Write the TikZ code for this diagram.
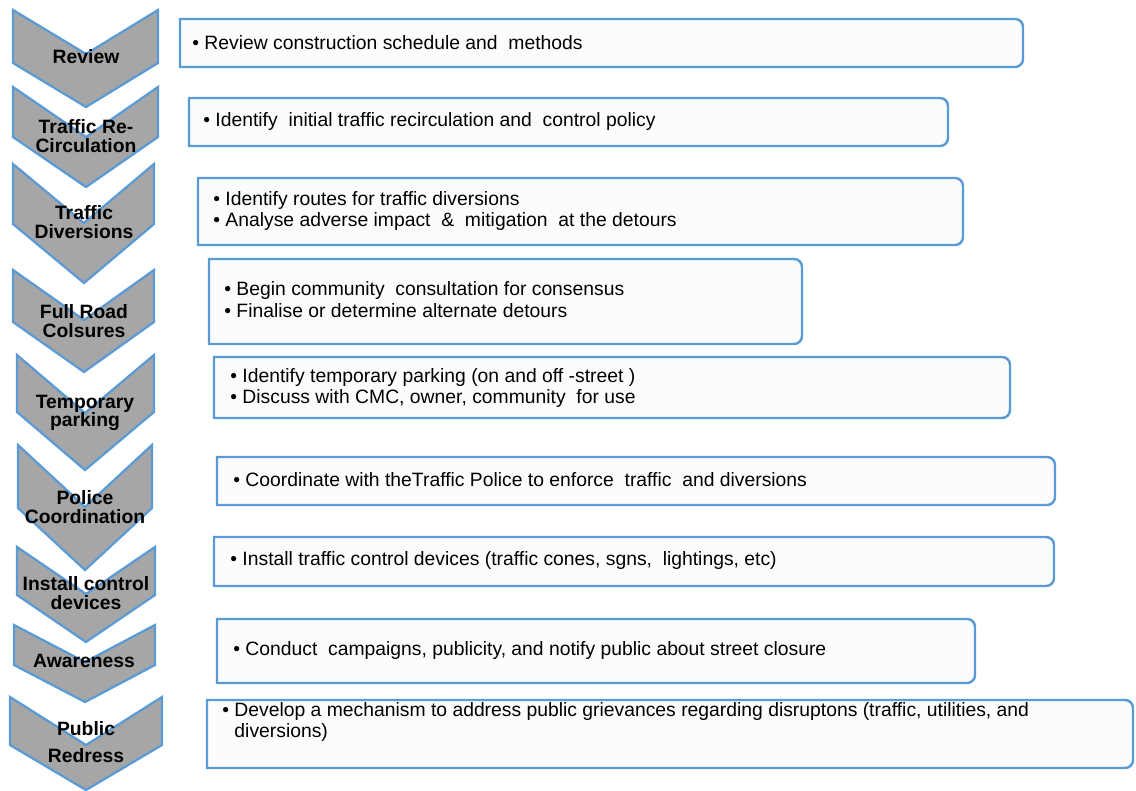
\documentclass[tikz,border=0pt]{standalone}
\usepackage{fontspec}
\setmainfont{Liberation Sans}

\definecolor{chevgray}{HTML}{A6A6A6}
\definecolor{edgeblue}{HTML}{5B9BD5}
\definecolor{notefill}{HTML}{FCFCFC}

\tikzset{
	chevron/.style={draw=edgeblue, fill=chevgray, line width=1.3pt, line join=miter},
	notebox/.style={draw=edgeblue, fill=notefill, line width=1.4pt},
	stage/.style={font=\bfseries\fontsize{11}{10.6}\selectfont, align=center, inner sep=0pt},
	point/.style={font=\fontsize{11}{12.5}\selectfont, align=left, anchor=west, inner sep=0pt}
}

\begin{document}
\begin{tikzpicture}[x=0.02cm, y=-0.02cm]
	\useasboundingbox (0,0) rectangle (1136,791);

	% chevrons down the left side
	\draw [chevron] (13,10) -- (86,54) -- (158,10) -- (158,63) -- (86,107) -- (13,63) -- cycle;
	\draw [chevron] (13,87) -- (86,137) -- (158,87) -- (158,137) -- (86,187) -- (13,137) -- cycle;
	\draw [chevron] (13,164) -- (84,223) -- (154,164) -- (154,224) -- (84,283) -- (13,224) -- cycle;
	\draw [chevron] (13,270) -- (84,320) -- (154,270) -- (154,322) -- (84,372) -- (13,322) -- cycle;
	\draw [chevron] (17,355) -- (85,413) -- (154,355) -- (154,412) -- (85,470) -- (17,412) -- cycle;
	\draw [chevron] (18,445) -- (85,507) -- (152,445) -- (152,508) -- (85,570) -- (18,508) -- cycle;
	\draw [chevron] (17,547) -- (86,594) -- (155,547) -- (155,595) -- (86,642) -- (17,595) -- cycle;
	\draw [chevron] (14,625) -- (85,662) -- (155,625) -- (155,665) -- (85,702) -- (14,665) -- cycle;
	\draw [chevron] (10,697) -- (86,745) -- (162,697) -- (162,745) -- (86,790) -- (10,745) -- cycle;

	% boxes, square on the left, rounded on the right
	\draw [notebox] (600,19) -- (180,19) -- (180,67) -- (600,67) [rounded corners=4.5pt] -- (1023,67) -- (1023,19) -- (900,19) [sharp corners] -- cycle;
	\draw [notebox] (600,98) -- (189,98) -- (189,146) -- (600,146) [rounded corners=4.5pt] -- (948,146) -- (948,98) -- (900,98) [sharp corners] -- cycle;
	\draw [notebox] (600,178) -- (198,178) -- (198,245) -- (600,245) [rounded corners=4.5pt] -- (963,245) -- (963,178) -- (900,178) [sharp corners] -- cycle;
	\draw [notebox] (500,259) -- (209,259) -- (209,344) -- (500,344) [rounded corners=4.5pt] -- (802,344) -- (802,259) -- (700,259) [sharp corners] -- cycle;
	\draw [notebox] (600,357) -- (214,357) -- (214,418) -- (600,418) [rounded corners=4.5pt] -- (1010,418) -- (1010,357) -- (900,357) [sharp corners] -- cycle;
	\draw [notebox] (600,457) -- (217,457) -- (217,505) -- (600,505) [rounded corners=4.5pt] -- (1055,505) -- (1055,457) -- (900,457) [sharp corners] -- cycle;
	\draw [notebox] (600,537) -- (214,537) -- (214,586) -- (600,586) [rounded corners=4.5pt] -- (1054,586) -- (1054,537) -- (900,537) [sharp corners] -- cycle;
	\draw [notebox] (600,619) -- (217,619) -- (217,683) -- (600,683) [rounded corners=4.5pt] -- (975,683) -- (975,619) -- (900,619) [sharp corners] -- cycle;
	\draw [notebox] (600,700) -- (207,700) -- (207,768) -- (600,768) [rounded corners=4.5pt] -- (1133,768) -- (1133,700) -- (900,700) [sharp corners] -- cycle;

	% stage names
	\node at (86,57) [stage] (s1) {Review};
	\node at (86,136) [stage] (s2) {Traffic Re-\\Circulation};
	\node at (84,222) [stage] (s3) {Traffic\\Diversions};
	\node at (84,321) [stage] (s4) {Full Road\\Colsures};
	\node at (85,413) [stage] (s5) {Temporary\\parking};
	\node at (85,507) [stage] (s6) {Police\\Coordination};
	\node at (86,593) [stage] (s7) {Install control\\devices};
	\node at (84,661) [stage] (s8) {Awareness};
	\node at (86,742) [stage, font=\bfseries\fontsize{11}{15.5}\selectfont] (s9) {Public\\Redress};

	% what each stage covers
	\node at (192,43) [point] (p1) {• Review construction schedule and\ \ methods};
	\node at (203,122) [point] (p2) {• Identify\ \ initial traffic recirculation and\ \ control policy};
	\node at (213,211) [point] (p3) {• Identify routes for traffic diversions\\• Analyse adverse impact\ \ \&\ \ mitigation\ \ at the detours};
	\node at (224,300) [point] (p4) {• Begin community\ \ consultation for consensus\\• Finalise or determine alternate detours};
	\node at (230,388) [point] (p5) {• Identify temporary parking (on and off -street )\\• Discuss with CMC, owner, community\ \ for use};
	\node at (233,480) [point] (p6) {• Coordinate with theTraffic Police to enforce\ \ traffic\ \ and diversions};
	\node at (230,560) [point] (p7) {• Install traffic control devices (traffic cones, sgns,\ \ lightings, etc)};
	\node at (233,650) [point] (p8) {• Conduct\ \ campaigns, publicity, and notify public about street closure};
	\node at (222,722) [point, font=\fontsize{11}{11.5}\selectfont] (p9) {• Develop a mechanism to address public grievances regarding disruptons (traffic, utilities, and\\\phantom{• }diversions)};
\end{tikzpicture}
\end{document}
